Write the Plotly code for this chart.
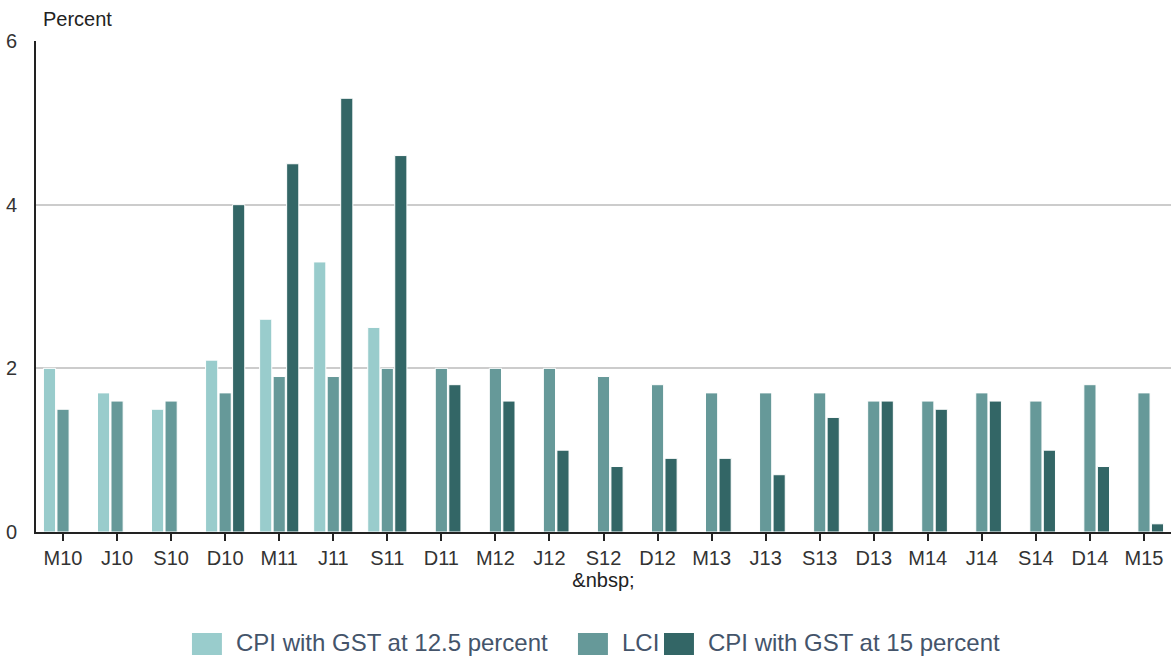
import plotly.graph_objects as go

# Quarterly labels (March, June, September, December)
quarters = ["M10", "J10", "S10", "D10", "M11", "J11", "S11", "D11", "M12", "J12",
            "S12", "D12", "M13", "J13", "S13", "D13", "M14", "J14", "S14", "D14", "M15"]

# Annual percentage change
cpi_gst_125 = [2.0, 1.7, 1.5, 2.1, 2.6, 3.3, 2.5, None, None, None,
               None, None, None, None, None, None, None, None, None, None, None]
lci = [1.5, 1.6, 1.6, 1.7, 1.9, 1.9, 2.0, 2.0, 2.0, 2.0,
       1.9, 1.8, 1.7, 1.7, 1.7, 1.6, 1.6, 1.7, 1.6, 1.8, 1.7]
cpi_gst_15 = [None, None, None, 4.0, 4.5, 5.3, 4.6, 1.8, 1.6, 1.0,
              0.8, 0.9, 0.9, 0.7, 1.4, 1.6, 1.5, 1.6, 1.0, 0.8, 0.1]

series_names = ["CPI with GST at 12.5 percent", "LCI", "CPI with GST at 15 percent"]
series_colors = ["#99cccc", "#669999", "#336666"]
series_values = [cpi_gst_125, lci, cpi_gst_15]

FONT = "Liberation Sans, Arial, sans-serif"

fig = go.Figure()
for name, color, vals in zip(series_names, series_colors, series_values):
    fig.add_trace(go.Bar(
        x=quarters, y=vals, name=name,
        marker=dict(color=color, line=dict(color="white", width=1)),
        showlegend=False,
    ))

fig.update_layout(
    width=1171, height=660,
    margin=dict(l=36, r=0, t=41, b=128),
    paper_bgcolor="white", plot_bgcolor="white",
    barmode="group", bargap=0.25, bargroupgap=0.1,
    font=dict(family=FONT, size=20, color="#333333"),
    xaxis=dict(
        type="category",
        showline=True, linecolor="#222222", linewidth=2,
        ticks="outside", ticklen=7, tickwidth=2, tickcolor="#222222",
        showgrid=False,
        tickfont=dict(size=20, color="#333333"),
        title=dict(text="&amp;nbsp;", font=dict(size=20, color="#222222"), standoff=3),
    ),
    yaxis=dict(
        range=[0, 6], tickvals=[0, 2, 4, 6],
        showline=True, linecolor="#222222", linewidth=2,
        showgrid=True, gridcolor="#cccccc", gridwidth=2,
        zeroline=False,
        ticks="", ticklabelstandoff=13,
        tickfont=dict(size=20, color="#333333"),
    ),
)

# Axis unit label above the value axis
fig.add_annotation(
    text="Percent", xref="paper", yref="paper", x=0.004, y=1.0,
    yshift=22, xanchor="left", yanchor="middle", showarrow=False,
    font=dict(size=20, color="#222222"),
)

# Legend row drawn beneath the chart
legend_items = [
    (series_names[0], series_colors[0], 0.1374),
    (series_names[1], series_colors[1], 0.4775),
    (series_names[2], series_colors[2], 0.5533),
]
for label, color, xp in legend_items:
    fig.add_shape(
        type="rect", xref="paper", yref="paper",
        x0=xp, x1=xp + 0.0264, y0=-0.2057, y1=-0.2505,
        fillcolor=color, line=dict(width=0),
    )
    fig.add_annotation(
        text=label, xref="paper", yref="paper", x=xp + 0.037, y=-0.2253,
        xanchor="left", yanchor="middle", showarrow=False,
        font=dict(size=24, color="#44546a"),
    )

fig.write_html("out.html")
